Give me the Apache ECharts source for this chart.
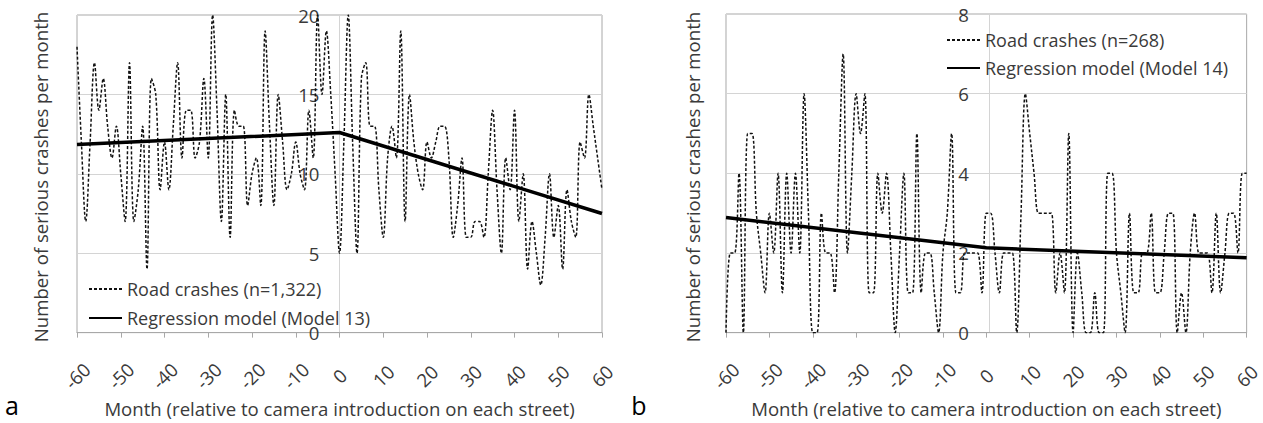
<!DOCTYPE html>
<html>
<head>
<meta charset="utf-8">
<script src="https://cdn.jsdelivr.net/npm/echarts@6/dist/echarts.min.js"></script>
<style>
html,body{margin:0;padding:0;background:#fff;}
#chart{width:1263px;height:423px;}
</style>
</head>
<body>
<div id="chart"></div>
<script>
// ---- data ----
const monthFirst = -60;
// Panel a: serious crashes per month, months -60 .. 60
const crashesA = [
  18,12,7,12,17,14,16,13,11,13,
  10,7,17,7,9,13,4,16,15,9,
  12,9,13,17,11,14,14,11,12,16,
  11,20,14,7,15,6,14,13,13,8,
  10,11,8,19,13,8,15,12,9,10,
  12,10,9,14,11,20,15,19,15,10,
  5,
  12,20,12,5,16,17,13,13,9,6,
  11,13,11,19,7,15,12,10,9,12,
  11,12,13,13,11,6,8,11,6,6,
  7,7,6,10,14,9,5,11,9,14,
  7,10,4,7,5,3,6,10,6,8,
  4,9,7,6,12,11,15,13,11,9
];
// Panel b
const crashesB = [
  0,2,2,4,0,5,5,3,2,1,
  3,2,4,1,4,2,4,2,6,3,
  0,0,3,2,2,1,4,7,2,4,
  6,5,6,1,1,4,3,4,2,0,
  2,4,1,1,5,1,2,2,1,0,
  2,3,5,1,1,2,2,2,2,1,
  3,
  3,2,1,2,2,2,0,3,6,
  5,4,3,3,3,3,1,2,1,5,
  0,2,1,0,0,1,0,0,4,4,
  2,1,0,3,1,1,2,2,3,1,
  1,2,3,3,0,1,0,2,3,2,
  2,2,1,3,1,2,3,3,2,4,4
];
// Regression model: [month, value] break points
const modelA = [[-60, 11.85], [0, 12.6], [60, 7.5]];
const modelB = [[-60, 2.89], [0, 2.13], [60, 1.88]];
const xTicks = [-60, 60, 10];       // min, max, interval
const yTicksA = [0, 20, 5];
const yTicksB = [0, 8, 2];
const labelsA = ['Road crashes (n=1,322)', 'Regression model (Model 13)'];
const labelsB = ['Road crashes (n=268)', 'Regression model (Model 14)'];
const xTitle = 'Month (relative to camera introduction on each street)';
const yTitle = 'Number of serious crashes per month';

function pairs(vals){ return vals.map((v,i)=>[monthFirst+i, v]); }

const FONT = 'Open Sans';
const FS = 18.6;
const TXT = '#3a3a3a';
const GRIDC = '#d4d4d4';
const BORDER = '#a8a8a8';

function xAxisCfg(gi){
  return {
    type:'value', gridIndex:gi, min:xTicks[0], max:xTicks[1], interval:xTicks[2],
    name:xTitle, nameLocation:'middle', nameGap:50,
    nameTextStyle:{fontFamily:FONT, fontSize:FS, color:TXT},
    axisLine:{show:true, onZero:false, lineStyle:{color:BORDER, width:1}},
    axisTick:{show:true, length:5, lineStyle:{color:BORDER}},
    axisLabel:{rotate:45, align:'center', verticalAlign:'middle', margin:43,
      fontFamily:FONT, fontSize:FS, color:TXT},
    splitLine:{show:false}
  };
}
function yAxisCfg(gi, t, off){
  return {
    type:'value', gridIndex:gi, min:t[0], max:t[1], interval:t[2],
    position:'left', offset:off,
    axisLine:{show:true, onZero:false, lineStyle:{color:GRIDC, width:1}},
    axisTick:{show:false},
    axisLabel:{margin:20, fontFamily:FONT, fontSize:FS, color:TXT, lineHeight:14,
      verticalAlign:'middle', align:'right'},
    splitLine:{show:true, lineStyle:{color:GRIDC, width:1}}
  };
}

const legendText = {fontFamily:FONT, fontSize:18, color:TXT, lineHeight:14};

const chart = echarts.init(document.getElementById('chart'), null, {renderer:'svg'});
chart.setOption({
  animation:false,
  backgroundColor:'#fff',
  grid:[
    {left:77, top:15, width:525, height:324, show:true, borderColor:BORDER, borderWidth:1},
    {left:726, top:14, width:526, height:325, show:true, borderColor:BORDER, borderWidth:1}
  ],
  xAxis:[xAxisCfg(0), xAxisCfg(1)],
  yAxis:[yAxisCfg(0, yTicksA, -262.5), yAxisCfg(1, yTicksB, -263)],
  legend:[
    {data:labelsA, orient:'vertical', left:88, top:280, padding:0, itemWidth:33, itemHeight:14, itemGap:11,
     itemStyle:{opacity:0}, textStyle:legendText, selectedMode:false},
    {data:labelsB, orient:'vertical', left:946, top:31, padding:0, itemWidth:33, itemHeight:14, itemGap:10,
     itemStyle:{opacity:0}, textStyle:legendText, selectedMode:false}
  ],
  graphic:[
    {type:'text', x:40, y:177, rotation:Math.PI/2,
     style:{text:yTitle, fontFamily:FONT, fontSize:FS, fill:TXT, align:'center', verticalAlign:'middle'}},
    {type:'text', x:692, y:177, rotation:Math.PI/2,
     style:{text:yTitle, fontFamily:FONT, fontSize:FS, fill:TXT, align:'center', verticalAlign:'middle'}},
    {type:'text', x:12, y:405, style:{text:'a', fontFamily:FONT, fontSize:25, fill:'#000', align:'center', verticalAlign:'middle'}},
    {type:'text', x:639, y:405, style:{text:'b', fontFamily:FONT, fontSize:25, fill:'#000', align:'center', verticalAlign:'middle'}}
  ],
  series:[
    {name:labelsA[0], type:'line', xAxisIndex:0, yAxisIndex:0, data:pairs(crashesA),
     smooth:0.35, symbol:'none', itemStyle:{color:'#111'}, lineStyle:{color:'#111', width:1.5, type:[3,2]}, z:2},
    {name:labelsA[1], type:'line', xAxisIndex:0, yAxisIndex:0, data:modelA,
     symbol:'none', itemStyle:{color:'#000'}, lineStyle:{color:'#000', width:3.5}, z:3},
    {name:labelsB[0], type:'line', xAxisIndex:1, yAxisIndex:1, data:pairs(crashesB),
     smooth:0.35, symbol:'none', itemStyle:{color:'#111'}, lineStyle:{color:'#111', width:1.5, type:[3,2]}, z:2},
    {name:labelsB[1], type:'line', xAxisIndex:1, yAxisIndex:1, data:modelB,
     symbol:'none', itemStyle:{color:'#000'}, lineStyle:{color:'#000', width:3.5}, z:3}
  ]
});
</script>
</body>
</html>
